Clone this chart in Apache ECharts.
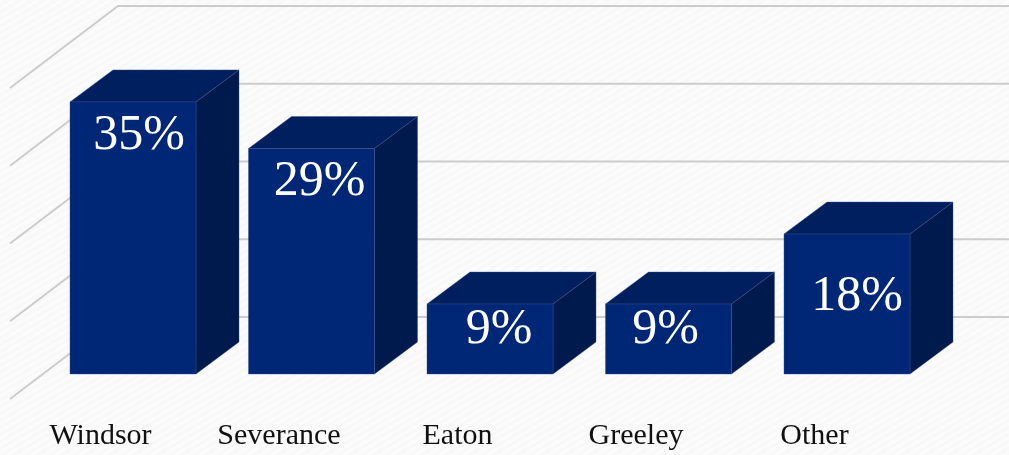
<!DOCTYPE html>
<html>
<head>
<meta charset="utf-8">
<script src="https://cdn.jsdelivr.net/npm/echarts@6/dist/echarts.min.js"></script>
<style>
html,body{margin:0;padding:0;background:#fafafa}
#c{width:1009px;height:455px;background:repeating-linear-gradient(150deg,#fbfbfb 0 3px,#f8f8f8 3px 6px)}
</style>
</head>
<body>
<div id="c"></div>
<script>
const categories = ['Windsor', 'Severance', 'Eaton', 'Greeley', 'Other'];
const shares = [35, 29, 9, 9, 18];
const wallTicks = [0, 10, 20, 30, 40];

// hand-placed value labels in the original: offset from bar centre / bar top
const labelShift = [[6, 34], [8, 33], [9, 26], [-3, 26], [10, 63]];

const FRONT = '#002776', TOP = '#001f5f', SIDE = '#001a4d', EDGE = '#3a5088';
const DEPTH_X = 43, DEPTH_Y = 32;
const serif = '"Liberation Serif", "DejaVu Serif", serif';

const chart = echarts.init(document.getElementById('c'), null, {renderer: 'canvas'});

function renderWall(params, api) {
  const cs = params.coordSys;
  const p = api.coord([0, api.value(0)]);
  const y = p[1];
  const line = {stroke: '#cccccc', lineWidth: 2};
  return {
    type: 'group',
    children: [
      {type: 'polyline', silent: true, shape: {points: [
        [cs.x - 33.75, y + 25], [cs.x + 74.25, y - 57], [cs.x + cs.width + 73, y - 57]
      ]}, style: Object.assign({fill: null}, line)}
    ]
  };
}

function renderBar(params, api) {
  const i = api.value(0), v = api.value(1);
  const base = api.coord([i, 0]);
  const top = api.coord([i, v]);
  const w = api.size([1, 0])[0] * 0.706;
  const l = base[0] - w / 2, r = base[0] + w / 2;
  const yT = top[1], yB = base[1];
  const s = labelShift[i];
  const edge = {stroke: EDGE, lineWidth: 0.4};
  return {
    type: 'group',
    children: [
      {type: 'polygon', shape: {points: [[l, yT], [l + DEPTH_X, yT - DEPTH_Y], [r + DEPTH_X, yT - DEPTH_Y], [r, yT]]},
        style: Object.assign({fill: TOP}, edge)},
      {type: 'polygon', shape: {points: [[r, yT], [r + DEPTH_X, yT - DEPTH_Y], [r + DEPTH_X, yB - DEPTH_Y], [r, yB]]},
        style: Object.assign({fill: SIDE}, edge)},
      {type: 'rect', shape: {x: l, y: yT, width: r - l, height: yB - yT},
        style: Object.assign({fill: FRONT}, edge)},
      {type: 'text', style: {
        x: base[0] + s[0], y: yT + s[1], text: api.value(1) + '%',
        fill: '#ffffff', font: '50px ' + serif, align: 'center', verticalAlign: 'middle'
      }}
    ]
  };
}

chart.setOption({
  animation: false,
  backgroundColor: 'transparent',
  grid: {left: 43.75, width: 892.5, top: 63, height: 311},
  xAxis: {
    type: 'category', data: categories,
    axisLine: {show: false}, axisTick: {show: false}, splitLine: {show: false},
    axisLabel: {
      color: '#111111', fontFamily: serif, fontSize: 30, margin: 47,
      padding: [0, 65, 0, 0], interval: 0
    }
  },
  yAxis: {type: 'value', min: 0, max: 40, interval: 10, show: false, splitLine: {show: false}},
  series: [
    {type: 'custom', name: 'walls', coordinateSystem: 'cartesian2d', clip: false, silent: true, z: 1,
     renderItem: renderWall, encode: {y: 0}, data: wallTicks.map(t => [t])},
    {type: 'custom', name: 'share', coordinateSystem: 'cartesian2d', clip: false, z: 2,
     renderItem: renderBar, encode: {x: 0, y: 1}, data: shares.map((v, i) => [i, v])}
  ]
});
</script>
</body>
</html>
